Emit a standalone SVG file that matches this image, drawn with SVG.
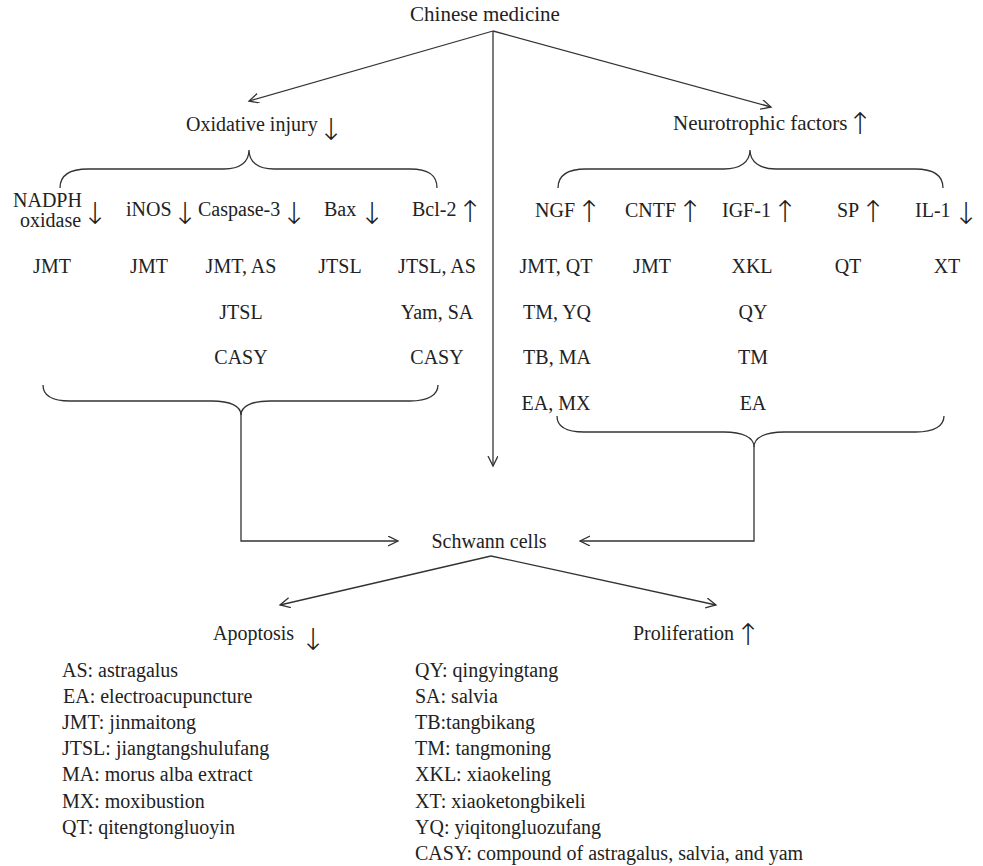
<svg xmlns="http://www.w3.org/2000/svg" width="983" height="866" viewBox="0 0 983 866">
<defs>
<marker id="ah" markerWidth="12" markerHeight="12" refX="10" refY="5" orient="auto" markerUnits="userSpaceOnUse">
<path d="M0,0 L10,5 L0,10" fill="none" stroke="#333" stroke-width="1.3"/>
</marker>
<style>
text{font-family:"Liberation Serif","Times New Roman",serif;font-size:20px;fill:#222}
.c{text-anchor:middle}
.arr{font-family:"DejaVu Sans",sans-serif;font-size:30px;font-weight:200;text-anchor:middle}
.lg{font-size:20px}
.ln{fill:none;stroke:#333;stroke-width:1.3}
.br{fill:none;stroke:#333;stroke-width:1.3}
</style>
</defs>
<rect width="983" height="866" fill="#fff"/>

<g id="connectors">
<path class="ln" d="M493,31 L249,101" marker-end="url(#ah)"/>
<path class="ln" d="M493,31 L771,107" marker-end="url(#ah)"/>
<path class="ln" d="M493,31 L493,466" marker-end="url(#ah)"/>
<path class="ln" d="M241,413 V541 H398" marker-end="url(#ah)"/>
<path class="ln" d="M754,446 V541 H580" marker-end="url(#ah)"/>
<path class="ln" d="M491,556 L280,605" marker-end="url(#ah)"/>
<path class="ln" d="M491,556 L716,605" marker-end="url(#ah)"/>
</g>

<g id="chinese-medicine"><text class="c" x="485" y="21" style="font-size:21px">Chinese medicine</text></g>

<g id="oxidative-injury">
<text x="186" y="131">Oxidative injury<tspan class="arr" x="331" y="140">↓</tspan></text>
<path class="br" d="M60,188 C60,176 68,169 88,169 L224,169 C240,169 249,162 249,150 C249,162 258,169 274,169 L410,169 C430,169 437,176 437,188"/>
</g>

<g id="neurotrophic-factors">
<text x="673" y="130" style="font-size:21px">Neurotrophic factors<tspan class="arr" x="860" y="134">↑</tspan></text>
<path class="br" d="M558,188 C558,176 566,169 586,169 L724,169 C740,169 750,162 750,150 C750,162 760,169 776,169 L915,169 C935,169 943,176 943,188"/>
</g>

<g id="nadph-oxidase">
<text><tspan x="13" y="207">NADPH</tspan><tspan x="20" y="227">oxidase</tspan><tspan class="arr" x="95" y="224">↓</tspan></text>
<text class="c" x="52" y="273">JMT</text>
</g>
<g id="inos">
<text x="126" y="216">iNOS<tspan class="arr" x="185" y="224">↓</tspan></text>
<text class="c" x="149" y="273">JMT</text>
</g>
<g id="caspase-3">
<text x="198" y="216">Caspase-3<tspan class="arr" x="294" y="224">↓</tspan></text>
<text class="c" x="241" y="273">JMT, AS</text>
<text class="c" x="241" y="319">JTSL</text>
<text class="c" x="241" y="364">CASY</text>
</g>
<g id="bax">
<text x="324" y="216">Bax<tspan class="arr" x="372" y="224">↓</tspan></text>
<text class="c" x="340" y="273">JTSL</text>
</g>
<g id="bcl-2">
<text x="412" y="216">Bcl-2<tspan class="arr" x="470" y="222">↑</tspan></text>
<text class="c" x="437" y="273">JTSL, AS</text>
<text class="c" x="437" y="319">Yam, SA</text>
<text class="c" x="437" y="364">CASY</text>
</g>

<g id="ngf">
<text x="535" y="217">NGF<tspan class="arr" x="589" y="222">↑</tspan></text>
<text class="c" x="556" y="273">JMT, QT</text>
<text class="c" x="557" y="319">TM, YQ</text>
<text class="c" x="557" y="364">TB, MA</text>
<text class="c" x="556" y="410">EA, MX</text>
</g>
<g id="cntf">
<text x="625" y="217">CNTF<tspan class="arr" x="690" y="222">↑</tspan></text>
<text class="c" x="652" y="273">JMT</text>
</g>
<g id="igf-1">
<text x="722" y="217">IGF-1<tspan class="arr" x="785" y="222">↑</tspan></text>
<text class="c" x="752" y="273">XKL</text>
<text class="c" x="753" y="319">QY</text>
<text class="c" x="753" y="364">TM</text>
<text class="c" x="753" y="410">EA</text>
</g>
<g id="sp">
<text x="837" y="217">SP<tspan class="arr" x="873" y="222">↑</tspan></text>
<text class="c" x="848" y="273">QT</text>
</g>
<g id="il-1">
<text x="915" y="217">IL-1<tspan class="arr" x="966" y="224">↓</tspan></text>
<text class="c" x="947" y="273">XT</text>
</g>

<g id="oxidative-targets-brace">
<path class="br" d="M43,385 C43,395 52,401 70,401 L212,401 C230,401 241,406 241,415 C241,406 252,401 270,401 L410,401 C428,401 438,395 438,385"/>
</g>
<g id="neurotrophic-targets-brace">
<path class="br" d="M557,416 C557,426 566,432 584,432 L724,432 C742,432 754,437 754,447 C754,437 766,432 784,432 L916,432 C934,432 944,426 944,416"/>
</g>

<g id="schwann-cells"><text class="c" x="489" y="548">Schwann cells</text></g>
<g id="apoptosis"><text x="213" y="640">Apoptosis<tspan class="arr" x="313" y="650">↓</tspan></text></g>
<g id="proliferation"><text x="633" y="640">Proliferation<tspan class="arr" x="748" y="645">↑</tspan></text></g>

<g id="legend">
<text class="lg" x="62" y="677">AS: astragalus</text>
<text class="lg" x="63" y="703">EA: electroacupuncture</text>
<text class="lg" x="62" y="729">JMT: jinmaitong</text>
<text class="lg" x="62" y="755">JTSL: jiangtangshulufang</text>
<text class="lg" x="62" y="781">MA: morus alba extract</text>
<text class="lg" x="62" y="808">MX: moxibustion</text>
<text class="lg" x="62" y="834">QT: qitengtongluoyin</text>
<text class="lg" x="415" y="677">QY: qingyingtang</text>
<text class="lg" x="415" y="703">SA: salvia</text>
<text class="lg" x="415" y="729">TB:tangbikang</text>
<text class="lg" x="415" y="755">TM: tangmoning</text>
<text class="lg" x="415" y="781">XKL: xiaokeling</text>
<text class="lg" x="415" y="808">XT: xiaoketongbikeli</text>
<text class="lg" x="415" y="834">YQ: yiqitongluozufang</text>
<text class="lg" x="415" y="860">CASY: compound of astragalus, salvia, and yam</text>
</g>
</svg>
